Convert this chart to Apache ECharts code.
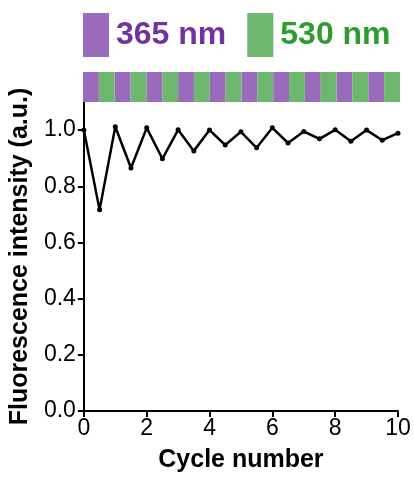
<!DOCTYPE html>
<html>
<head>
<meta charset="utf-8">
<script src="https://cdn.jsdelivr.net/npm/echarts@6/dist/echarts.min.js"></script>
<style>
  html, body { margin: 0; padding: 0; background: #fff; }
  #main { width: 414px; height: 478px; }
</style>
</head>
<body>
<div id="main"></div>
<script>
// cycle position (half cycle = one irradiation step) and normalised intensity
var cycles = [0, 0.5, 1, 1.5, 2, 2.5, 3, 3.5, 4, 4.5, 5, 5.5, 6, 6.5, 7, 7.5, 8, 8.5, 9, 9.5, 10];
var intensity = [1.0, 0.716, 1.012, 0.865, 1.008, 0.898, 1.001, 0.926, 1.0, 0.947, 0.994,
                 0.937, 1.008, 0.954, 0.995, 0.969, 1.001, 0.960, 1.0, 0.964, 0.989];

// irradiation stripes above the plot
var uvStripes = [[0, 0.5], [1, 1.5], [2, 2.5], [3, 3.5], [4, 4.5], [5, 5.5], [6, 6.5], [7, 7.5], [8, 8.5], [9, 9.5]];
var greenStripes = [[0.5, 1], [1.5, 2], [2.5, 3], [3.5, 4], [4.5, 5], [5.5, 6], [6.5, 7], [7.5, 8], [8.5, 9], [9.5, 10]];

var xTicks = [0, 2, 4, 6, 8, 10];
var yTicks = [0, 0.2, 0.4, 0.6, 0.8, 1.0];

var uvColor = '#9a6bbc';
var greenColor = '#6db76e';

function stripe(params, api) {
  var a = api.coord([api.value(0), 1]);
  var b = api.coord([api.value(1), 0]);
  return {
    type: 'rect',
    shape: { x: a[0], y: a[1], width: b[0] - a[0], height: b[1] - a[1] },
    style: { fill: api.visual('color') }
  };
}

var font = 'Liberation Sans, Arial, sans-serif';

var option = {
  animation: false,
  backgroundColor: '#fff',
  legend: {
    left: 83,
    top: 13,
    padding: 0,
    icon: 'rect',
    itemWidth: 26,
    itemHeight: 44,
    itemGap: 21,
    data: [
      { name: '365 nm', textStyle: { color: '#7232a0' } },
      { name: '530 nm', textStyle: { color: '#2e9b2e' } }
    ],
    textStyle: { fontFamily: font, fontWeight: 'bold', fontSize: 32, padding: [0, 0, 0, 2] },
    selectedMode: false
  },
  grid: [
    { left: 83, right: 14, top: 72, height: 30 },
    { left: 83, right: 16, top: 102, bottom: 63 }
  ],
  xAxis: [
    { gridIndex: 0, type: 'value', min: 0, max: 10, show: false },
    {
      gridIndex: 1, type: 'value', min: 0, max: 10,
      name: 'Cycle number', nameLocation: 'middle', nameGap: 37,
      nameTextStyle: { fontFamily: font, fontWeight: 'bold', fontSize: 25, color: '#000' },
      axisLine: { lineStyle: { color: '#000', width: 2 } },
      axisTick: { length: 6, lineStyle: { color: '#000', width: 2 }, customValues: xTicks },
      axisLabel: { fontFamily: font, fontSize: 23, color: '#000', margin: 6, customValues: xTicks },
      splitLine: { show: false }
    }
  ],
  yAxis: [
    { gridIndex: 0, type: 'value', min: 0, max: 1, show: false },
    {
      gridIndex: 1, type: 'value', min: 0, max: 1.1,
      name: 'Fluorescence intensity (a.u.)', nameLocation: 'middle', nameGap: 45,
      nameTextStyle: { fontFamily: font, fontWeight: 'bold', fontSize: 25, color: '#000' },
      axisLine: { show: true, lineStyle: { color: '#000', width: 2 } },
      axisTick: { show: true, length: 6, lineStyle: { color: '#000', width: 2 }, customValues: yTicks },
      axisLabel: {
        fontFamily: font, fontSize: 23, color: '#000', margin: 8, customValues: yTicks,
        formatter: function (v) { return v.toFixed(1); }
      },
      splitLine: { show: false }
    }
  ],
  series: [
    {
      name: '365 nm', type: 'custom', xAxisIndex: 0, yAxisIndex: 0,
      itemStyle: { color: uvColor },
      renderItem: stripe, encode: { x: [0, 1] }, data: uvStripes
    },
    {
      name: '530 nm', type: 'custom', xAxisIndex: 0, yAxisIndex: 0,
      itemStyle: { color: greenColor },
      renderItem: stripe, encode: { x: [0, 1] }, data: greenStripes
    },
    {
      name: 'intensity', type: 'line', xAxisIndex: 1, yAxisIndex: 1,
      data: cycles.map(function (c, i) { return [c, intensity[i]]; }),
      symbol: 'circle', symbolSize: 5,
      lineStyle: { color: '#000', width: 2.5 },
      itemStyle: { color: '#000' },
      clip: false
    }
  ]
};

var chart = echarts.init(document.getElementById('main'));
chart.setOption(option);
</script>
</body>
</html>
